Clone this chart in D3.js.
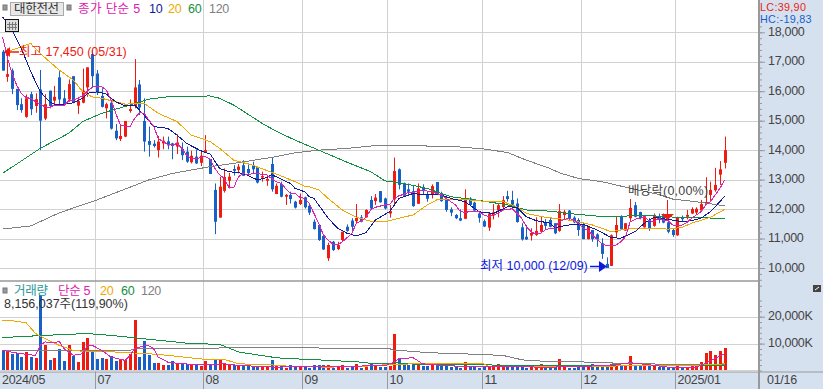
<!DOCTYPE html>
<html>
<head>
<meta charset="utf-8">
<script src="https://cdnjs.cloudflare.com/ajax/libs/d3/7.8.5/d3.min.js"></script>
<style>
    html, body { margin: 0; padding: 0; background: #fff; }
    svg { display: block; }
    text { font-family: "Liberation Sans", "Noto Sans CJK KR", sans-serif; font-size: 12.5px; letter-spacing: -0.3px; }
    .ma { shape-rendering: crispEdges; }
</style>
</head>
<body>
<svg id="chart" width="823" height="389"></svg>
<script>
// daily candles
const priceOpen = [17340,16490,16700,16080,15560,15130,15900,15500,16060,15070,16020,15680,16470,15760,15720,16510,15510,15610,16130,17260,16600,15840,15420,15610,14660,14380,14460,15330,15500,16230,
    14990,14310,14220,14000,14230,14300,14230,14120,14040,13950,13590,13780,13570,13910,13700,12650,11710,12620,12960,13360,13330,13490,13360,13470,13420,13080,12960,13530,12510,12850,
    12420,12480,12250,12170,12400,12110,11570,11460,11090,10330,10890,10640,10950,11400,11610,11590,11720,11720,12310,12270,12610,12360,11850,12330,13350,12870,12670,12610,12180,12740,
    12510,12500,12920,12530,12330,11990,11800,11690,11670,12360,12220,11850,11590,11370,11780,11950,12070,12440,12310,12190,11380,11060,11100,11120,11230,11540,11630,11520,11260,11800,
    11950,11710,11630,11460,10980,11290,11140,10840,10140,10070,11210,11760,11270,11690,12130,11900,11380,11630,11430,11760,11790,11550,11290,11110,11710,11740,11850,11880,11950,12190,12480,12640,13170,13570];
const priceClose = [16700,16580,16080,15530,15360,15760,15390,15730,15000,15560,15500,15810,15720,15530,16240,15610,15670,16020,16810,16510,15950,15470,15560,14730,14400,14480,14990,15390,16130,15450,
    14290,14180,14140,14290,14320,14160,14140,14260,13830,13610,13810,13550,13810,14000,13190,11570,12760,13090,13100,13300,13440,13130,13220,13350,12900,13120,13020,12670,12790,12420,
    12480,12340,12050,12310,12060,11880,11320,10950,10630,10780,10610,10780,11230,11260,11400,11700,11570,11970,12020,12390,12230,12020,11930,13290,12820,12450,12590,12100,12700,12610,
    12350,12780,12510,12270,11970,11880,11690,11610,12360,12140,11950,11700,11410,11850,11890,12130,12300,12340,12150,11560,10970,10970,11190,11260,11460,11430,11400,11180,11930,11910,
    11660,11550,11290,10980,11400,10980,10970,10480,10000,11110,11460,11310,11520,12040,11740,11690,11760,11350,11760,11630,11540,11230,11120,11720,11670,11800,12000,12010,12170,12240,12650,12820,13350,14000];
const priceHigh = [17400,17450,16770,16080,15760,15890,15980,15930,16720,15900,16020,16180,16680,16040,16400,16510,15810,16770,16810,17400,16720,16100,15610,15700,14890,14890,14990,15720,17090,16380,
    15760,14800,14340,14480,14460,14460,14250,14540,14260,14120,13980,14030,13950,14510,13700,12870,13100,13380,13230,13490,13530,13660,13550,13610,13420,13270,13160,13750,12870,12930,
    12510,12590,12280,12530,12420,12190,11650,11490,11110,10860,10920,10890,11230,11480,11690,12170,11800,11990,12440,12510,12610,12390,12140,13750,13380,12900,12870,12820,12870,12840,
    12590,12840,12920,12590,12480,12060,11830,11990,12670,12400,12250,11910,11650,11880,12170,12170,12440,12620,12620,12360,11520,11460,11350,11720,11740,11660,11690,11520,12170,11970,
    11970,11760,11690,11520,11400,11290,11180,11010,10360,11140,11760,11790,11520,12340,12240,11910,11760,11690,11850,11850,11850,11690,11350,11740,11780,11970,12060,12060,12310,13080,12930,13400,13630,14460];
const priceLow = [16700,16320,15900,15360,15270,15100,15190,15270,14000,15020,15420,15530,15500,15500,15640,15590,15230,15590,15810,16130,15870,15450,15080,14700,14340,14310,14440,15270,15420,15190,
    13950,13780,14090,13750,14030,14030,13690,13870,13660,13570,13550,13530,13460,13910,13190,11150,11710,12560,12700,13140,13210,13120,13160,13210,12870,12930,12790,12590,12510,12400,
    12140,12190,12020,12140,12020,11800,11310,10920,10610,10240,10580,10610,10890,11230,11290,11520,11550,11710,11970,12140,12220,11990,11710,12140,12670,12420,12480,12080,12170,12480,
    12250,12360,12480,12250,11910,11760,11660,11590,11660,12100,11930,11540,11390,11260,11650,11720,11950,12250,12080,11540,10930,10950,10930,11090,11180,11290,11380,11150,11230,11650,
    11630,11520,11090,10980,10970,10890,10720,10310,10000,10070,11040,11310,11260,11570,11720,11650,11370,11260,11400,11520,11520,11180,11060,11090,11570,11650,11830,11830,11910,12140,12280,12590,12820,13380];

const volume = [7750,6880,6000,6500,5000,6880,5000,4630,28130,9380,3750,4500,7880,3500,9380,5250,3130,10630,12000,7500,4130,4750,4130,5250,3500,3750,4000,6000,18750,5000,
    10880,5630,2750,2750,1880,2000,3380,2500,2500,2500,2250,1880,1630,3380,2500,3750,3750,2880,1880,2000,1880,1500,1750,1250,1250,1250,1250,3750,1880,1630,
    1000,1880,1500,1250,1250,1000,1880,1880,1880,1880,1000,1500,1880,1000,1250,2500,1000,1250,2750,1500,1250,1250,1500,13750,4130,2130,1880,1880,2750,1500,
    1500,2130,1500,1500,1500,1250,1250,1000,3000,1250,1250,1000,1250,1500,1500,2250,1500,1250,1250,1250,1250,1000,1250,1250,2250,1250,1250,1250,4130,1630,
    1000,1000,1500,1500,1500,2250,1500,1500,1500,2250,2250,1500,1500,5250,1500,1500,2250,1880,1500,1250,1250,1000,1000,1500,1000,1000,1500,1500,3000,6500,7130,5630,7130,8400];

// price moving averages
const ma5 = [17850,17170,16600,16210,15930,15780,15760,15640,15560,15470,15450,15530,15530,15510,15670,15700,15760,15850,16010,16130,16180,16150,16040,15700,15250,14850,14820,14800,15080,15270,
    15250,15020,14820,14400,14290,14200,14170,14230,14060,13830,13720,13700,13750,13780,13700,13380,13160,13040,12730,12730,13100,13210,13160,13210,13210,13180,13160,13040,12930,12870,
    12700,12530,12530,12400,12360,12190,11850,11520,11120,10950,10810,10780,10890,11030,11180,11520,11590,11720,11970,12060,12100,12140,12140,12360,12450,12500,12570,12570,12590,12650,
    12610,12590,12530,12480,12360,12250,12140,11910,11890,11910,11910,11910,11800,11740,11800,11850,11970,11970,12020,11850,11690,11400,11230,11150,11180,11290,11350,11350,11570,11650,
    11690,11630,11520,11350,11290,11120,10970,10810,10760,10760,10780,10890,11060,11570,11650,11690,11720,11610,11570,11690,11630,11610,11460,11430,11460,11540,11690,11800,11910,12140,12250,12480,12700,12990];
const ma10 = [[0,18530],[2,18080],[4,17450],[6,16660],[7,16320],[8,15980],[9,15810],[10,15640],[11,15560],[13,15550],[15,15610],[17,15760],[18,15930],[20,15980],[22,15900],[24,15640],[26,15500],[28,15530],
    [30,15190],[32,14800],[35,14740],[37,14510],[39,14230],[42,13980],[44,13870],[46,13380],[48,13270],[51,13210],[54,12990],[56,13070],[57,13160],[58,13100],[61,12870],[62,12700],[64,12590],[65,12420],
    [66,12360],[69,11690],[71,11350],[73,11180],[75,11090],[77,11200],[79,11630],[82,11910],[84,12360],[87,12530],[89,12480],[93,12480],[95,12360],[98,12250],[101,11910],[104,11850],[107,12080],[109,12060],
    [111,11740],[113,11610],[116,11520],[117,11370],[120,11460],[123,11490],[126,11290],[129,11030],[131,11010],[134,11230],[136,11520],[138,11720],[141,11650],[144,11570],[146,11610],[148,11690],[150,11910],[152,12250],[153,12440]];
const ma20 = [[1,17340],[4,17510],[6,17620],[8,17280],[12,16720],[15,16380],[17,15980],[19,15810],[21,15760],[24,15640],[26,15560],[29,15590],[30,15590],[33,15250],[37,14970],[40,14510],[44,14290],[46,14060],[49,13660],[53,13490],
    [58,13190],[62,12930],[64,12780],[65,12760],[67,12650],[69,12360],[72,11970],[75,11720],[78,11590],[81,11570],[84,11690],[87,11800],[90,12140],[92,12310],[96,12330],[99,12310],[103,12250],[106,12250],[109,12080],[111,11850],[115,11720],
    [119,11650],[122,11570],[125,11460],[129,11230],[131,11290],[134,11350],[137,11350],[141,11320],[144,11380],[146,11520],[150,11720],[153,11990]];
const ma60 = [[0,13210],[8,14060],[14,14570],[17,14970],[21,15250],[27,15530],[31,15730],[35,15810],[44,15840],[46,15760],[49,15530],[55,14910],[58,14640],[62,14340],[67,14000],[73,13590],[78,13270],[81,12960],[85,12870],[90,12700],
    [95,12420],[98,12360],[102,12270],[107,12140],[111,11970],[116,11930],[120,11850],[126,11760],[131,11760],[137,11780],[144,11710],[153,11690]];
const ma120 = [[0,11320],[6,11430],[12,11870],[20,12310],[26,12680],[31,12990],[36,13210],[44,13440],[49,13550],[58,13780],[62,13910],[67,14000],[73,14060],[78,14140],[82,14170],[87,14150],[96,14120],[102,14040],[107,13920],[111,13660],
    [116,13380],[118,13230],[122,13040],[127,12930],[134,12670],[139,12500],[142,12340],[147,12250],[153,12110]];

// volume moving averages
const volMa5 = [[0,7500],[3,6500],[5,6000],[7,5630],[8,9380],[9,10630],[11,10250],[12,10880],[13,8130],[15,5630],[17,6250],[18,9380],[19,9380],[21,7500],[23,5000],[26,3750],[27,5630],[28,8130],[30,9130],[31,9130],[32,8130],[33,5000],[35,3130],[38,2500],[43,2130],[47,2500],[50,1880],[58,1250],
    [66,1500],[81,1750],[83,3130],[84,4380],[87,4750],[89,2500],[93,1880],[98,1500],[116,1250],[123,1500],[130,2130],[133,2880],[137,2130],[141,1250],[147,1250],[149,2750],[153,6250]];
const volMa20 = [[0,18750],[2,18500],[5,17750],[7,13750],[9,11880],[12,9380],[15,7500],[17,7130],[21,7130],[28,6500],[33,6000],[37,5250],[43,4130],[47,4130],[50,2500],[58,2000],[61,1500],[69,1250],[76,1500],[82,2250],[88,2500],[102,2500],[103,1500],[116,1630],[122,1500],[152,2130],[153,2750]];
const volMa60 = [[0,12250],[7,12880],[13,13380],[18,13750],[24,12880],[33,11250],[40,10000],[46,9750],[50,6880],[58,4750],[61,4380],[65,4130],[69,3750],[75,3250],[79,2500],[82,2500],[83,2880],[86,2500],[88,2250],[100,2130],[116,1750],[153,1880]];
const volMa120 = [[0,7250],[19,7250],[20,7500],[27,7500],[28,8130],[45,8130],[46,8380],[67,8380],[68,8130],[82,8130],[83,7500],[87,7130],[90,6630],[97,6250],[102,5880],[106,5630],[109,4380],[111,3750],[116,3380],[123,3250],[124,2880],[129,2880],[130,2500],[138,2500],[139,2130],[153,2130]];

// month lines sit just before the first candle of the month
const monthIdx = [20,43,64,82,102,123,143];
const monthLabels = ["07","08","09","10","11","12","2025/01"];
const priceTicks = [10000,11000,12000,13000,14000,15000,16000,17000,18000];
const volumeTicks = [10000,20000];

const RED = "#ee1c10", BLUE = "#1660c8", MAG = "#e020b0", NAVY = "#101a9c", ORANGE = "#f0a800", GREEN = "#109040", GRAY = "#808080";
const GRID = "#d2d2d2", BAND = "#d6e1f0", AXIS = "#999999", LABEL = "#444444";

const svg = d3.select("#chart");
const plotRight = 758;

const x = d3.scaleLinear().domain([0, 153]).range([2.5, 724.6]);
const y = d3.scaleLinear().domain([10000, 18000]).range([268, 32.3]);
const yVol = d3.scaleLinear().domain([0, 20000]).range([370.5, 316.7]);

// right and bottom bands
svg.append("rect").attr("x", plotRight).attr("y", 0).attr("width", 823 - plotRight).attr("height", 389).attr("fill", BAND);
svg.append("rect").attr("x", 0).attr("y", 372).attr("width", 823).attr("height", 17).attr("fill", BAND);

// grid
svg.append("g").selectAll("line").data(priceTicks).join("line")
    .attr("x1", 0).attr("x2", plotRight)
    .attr("y1", d => Math.round(y(d)) + 0.5).attr("y2", d => Math.round(y(d)) + 0.5)
    .attr("stroke", GRID);
svg.append("g").selectAll("line").data(volumeTicks).join("line")
    .attr("x1", 0).attr("x2", plotRight)
    .attr("y1", d => Math.round(yVol(d)) + 0.5).attr("y2", d => Math.round(yVol(d)) + 0.5)
    .attr("stroke", GRID);
svg.append("g").selectAll("line").data(monthIdx).join("line")
    .attr("x1", d => Math.round(x(d - 0.5)) + 0.5).attr("x2", d => Math.round(x(d - 0.5)) + 0.5)
    .attr("y1", 0).attr("y2", 372)
    .attr("stroke", GRID);
svg.append("line").attr("x1", 0).attr("x2", plotRight).attr("y1", 370.5).attr("y2", 370.5).attr("stroke", GRID);

// volume bars
svg.append("g").selectAll("rect").data(volume).join("rect")
    .attr("x", (d, i) => Math.round(x(i)) - 1)
    .attr("width", 3)
    .attr("y", d => Math.round(yVol(d)))
    .attr("height", d => 370 - Math.round(yVol(d)))
    .attr("fill", (d, i) => priceClose[i] >= priceOpen[i] ? RED : BLUE);

// volume averages
const volLine = d3.line().x(d => x(d[0])).y(d => yVol(d[1]));
[[volMa120, GRAY], [volMa60, GREEN], [volMa20, ORANGE], [volMa5, MAG]].forEach(function (s) {
    svg.append("path").attr("class", "ma").attr("d", volLine(s[0])).attr("fill", "none").attr("stroke", s[1]).attr("stroke-width", 1);
});

// candles
const candles = svg.append("g").selectAll("g").data(priceOpen).join("g")
    .attr("fill", (d, i) => priceClose[i] >= d ? RED : BLUE)
    .attr("stroke", "none");
candles.append("rect")
    .attr("x", (d, i) => Math.round(x(i)))
    .attr("width", 1)
    .attr("y", (d, i) => y(priceHigh[i]))
    .attr("height", (d, i) => y(priceLow[i]) - y(priceHigh[i]));
candles.append("rect")
    .attr("x", (d, i) => Math.round(x(i)) - 1)
    .attr("width", 3)
    .attr("y", (d, i) => y(Math.max(d, priceClose[i])))
    .attr("height", (d, i) => Math.max(1.5, Math.abs(y(d) - y(priceClose[i]))));

// price averages
const pairLine = d3.line().x(d => x(d[0])).y(d => y(d[1]));
[[ma120, GRAY], [ma60, GREEN], [ma20, ORANGE], [ma10, NAVY]].forEach(function (s) {
    svg.append("path").attr("class", "ma").attr("d", pairLine(s[0])).attr("fill", "none").attr("stroke", s[1]).attr("stroke-width", 1);
});
svg.append("path").attr("class", "ma")
    .attr("d", d3.line().x((d, i) => x(i)).y(d => y(d))(ma5))
    .attr("fill", "none").attr("stroke", MAG).attr("stroke-width", 1);

// panel separators
svg.append("line").attr("x1", 0).attr("x2", plotRight).attr("y1", 281).attr("y2", 281).attr("stroke", AXIS).attr("stroke-width", 1.5);
svg.append("line").attr("x1", 0).attr("x2", 823).attr("y1", 372).attr("y2", 372).attr("stroke", AXIS);

// axes
function styleAxis(g, major) {
    g.select(".domain").remove();
    g.selectAll("line").attr("stroke", AXIS);
    g.selectAll("text").attr("fill", LABEL).attr("dy", "0.24em");
    if (!major) g.selectAll("text").remove();
}
const minorPrice = d3.range(9400, 18400, 200);
svg.append("g").attr("transform", "translate(759,0)")
    .call(d3.axisRight(y).tickValues(minorPrice).tickSize(3).tickSizeOuter(0))
    .call(g => styleAxis(g, false));
svg.append("g").attr("transform", "translate(759,0)")
    .call(d3.axisRight(y).tickValues(priceTicks).tickSize(6).tickPadding(3).tickSizeOuter(0).tickFormat(d3.format(",")))
    .call(g => styleAxis(g, true));
const minorVol = d3.range(0, 28000, 2000);
svg.append("g").attr("transform", "translate(759,0)")
    .call(d3.axisRight(yVol).tickValues(minorVol).tickSize(3).tickSizeOuter(0))
    .call(g => styleAxis(g, false));
svg.append("g").attr("transform", "translate(759,0)")
    .call(d3.axisRight(yVol).tickValues(volumeTicks).tickSize(6).tickPadding(3).tickSizeOuter(0).tickFormat(d => d3.format(",")(d) + "K"))
    .call(g => styleAxis(g, true));
svg.append("rect").attr("x", 758).attr("y", 0).attr("width", 2).attr("height", 389).attr("fill", AXIS);

// bottom labels and ticks
svg.append("g").selectAll("line").data(monthIdx).join("line")
    .attr("x1", d => Math.round(x(d - 0.5)) + 0.5).attr("x2", d => Math.round(x(d - 0.5)) + 0.5)
    .attr("y1", 372).attr("y2", 389).attr("stroke", AXIS);
svg.append("g").selectAll("text").data(monthIdx).join("text")
    .attr("x", d => Math.round(x(d - 0.5)) + 2.5).attr("y", 383.5)
    .attr("fill", LABEL)
    .text((d, i) => monthLabels[i]);
svg.append("text").attr("x", 2).attr("y", 383.5).attr("fill", LABEL).text("2024/05");
svg.append("text").attr("x", 767).attr("y", 383.5).attr("fill", LABEL).text("01/16");

// header
function label(tx, ty, s, color, spacing) {
    return svg.append("text").attr("x", tx).attr("y", ty).attr("fill", color).style("letter-spacing", spacing || null).text(s);
}
function marker(mx, my) {
    svg.append("rect").attr("x", mx).attr("y", my).attr("width", 4).attr("height", 5).attr("fill", "#999").attr("stroke", "#777");
}
marker(3, 5);
svg.append("rect").attr("x", 10.5).attr("y", 2.5).attr("width", 53).attr("height", 13).attr("fill", "#e8e8e8").attr("stroke", "#aaa");
label(14, 13, "대한전선", "#333");
marker(67, 5);
label(78, 13, "종가 단순 5", MAG, "0.4px");
label(149, 13, "10", NAVY);
label(168, 13, "20", ORANGE);
label(188, 13, "60", GREEN);
label(209, 13, "120", GRAY);

// table icon
svg.append("rect").attr("x", 5.5).attr("y", 19.5).attr("width", 13).attr("height", 12).attr("fill", "#ddd").attr("stroke", "#111");
[9.5, 12.5, 15.5].forEach(vx => svg.append("line").attr("x1", vx).attr("x2", vx).attr("y1", 22).attr("y2", 30).attr("stroke", "#777"));
[24.5, 27.5].forEach(vy => svg.append("line").attr("x1", 7).attr("x2", 17).attr("y1", vy).attr("y2", vy).attr("stroke", "#777"));

label(760, 10.5, "LC:39,90", RED, "0.3px").style("font-size", "10.8px");
label(760, 22.5, "HC:-19,83", BLUE, "0.3px").style("font-size", "10.8px");

// annotations
label(19, 56, "최고 17,450 (05/31)", RED, "0px");
svg.append("line").attr("x1", 19).attr("x2", 8).attr("y1", 52).attr("y2", 52).attr("stroke", RED).attr("stroke-width", 1.5);
svg.append("path").attr("d", "M4,52L10,47L10,57Z").attr("fill", RED);
label(480, 270, "최저 10,000 (12/09)", "#0c18e0", "0px");
svg.append("line").attr("x1", 590).attr("x2", 602).attr("y1", 266.5).attr("y2", 266.5).attr("stroke", "#0c18e0").attr("stroke-width", 1.5);
svg.append("path").attr("d", "M607,266.5L599,261L599,272Z").attr("fill", "#0c18e0");
label(628, 195, "배당락(0,00%)", "#444", "0.2px");
svg.append("line").attr("x1", 667.5).attr("x2", 667.5).attr("y1", 200).attr("y2", 216).attr("stroke", RED);
svg.append("path").attr("d", "M661,214L674,214L667.5,220Z").attr("fill", RED);

// volume legend
marker(3, 288);
label(14, 294.5, "거래량", "#2a9a9a");
label(58, 294.5, "단순 5", MAG);
label(100, 294.5, "20", ORANGE);
label(121, 294.5, "60", GREEN);
label(141, 294.5, "120", GRAY);
label(4, 308, "8,156,037주(119,90%)", "#333", "0px");

// expand button
svg.append("rect").attr("x", 813).attr("y", 285).attr("width", 8).attr("height", 7).attr("fill", "#444");
svg.append("path").attr("d", "M815,290L819,287").attr("stroke", "#fff");
</script>
</body>
</html>
